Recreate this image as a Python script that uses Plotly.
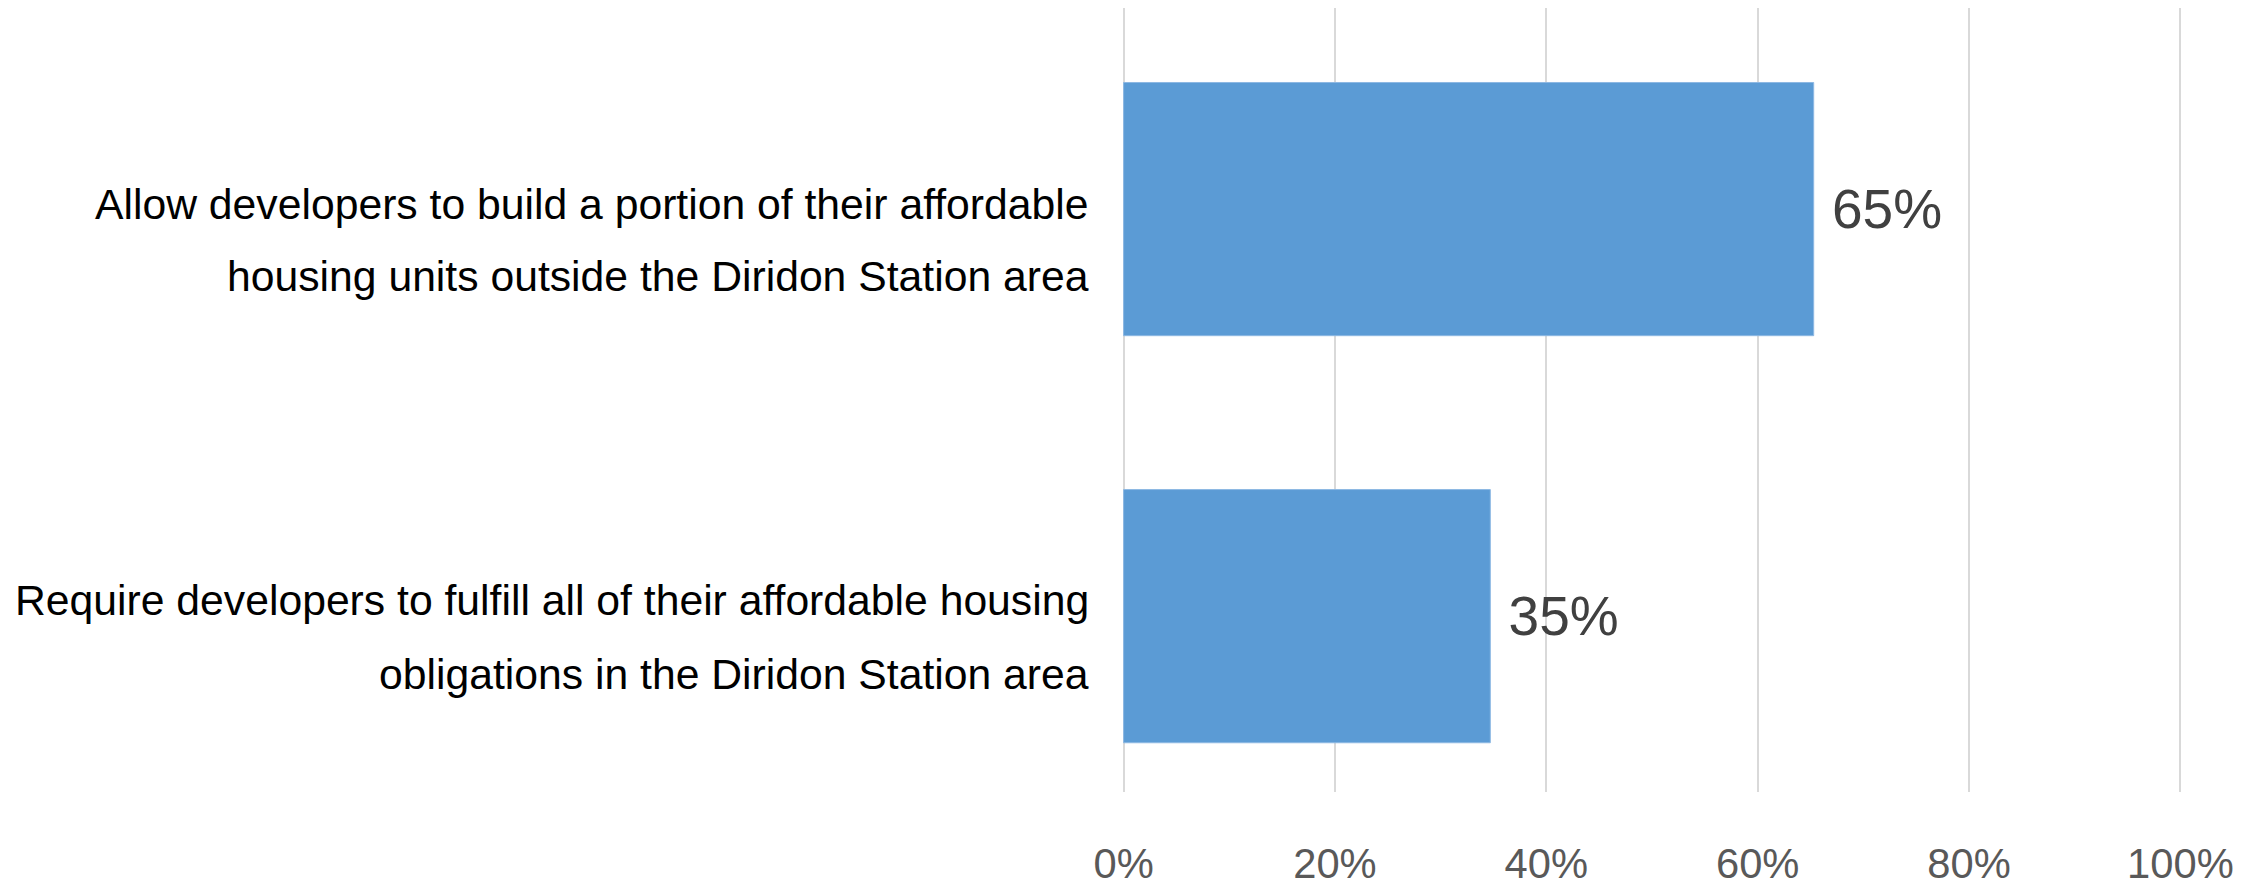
import plotly.graph_objects as go

categories = [
    "Allow developers to build a portion of their affordable housing units outside the Diridon Station area",
    "Require developers to fulfill all of their affordable housing obligations in the Diridon Station area",
]
label_lines = [
    ["Allow developers to build a portion of their affordable",
     "housing units outside the Diridon Station area"],
    ["Require developers to fulfill all of their affordable housing",
     "obligations in the Diridon Station area"],
]
values = [65.3, 34.7]
value_labels = ["65%", "35%"]
tick_vals = [0, 20, 40, 60, 80, 100]
tick_text = ["0%", "20%", "40%", "60%", "80%", "100%"]

FONT = "Liberation Sans, Arial, sans-serif"

fig = go.Figure()
fig.add_trace(go.Bar(
    x=values,
    y=categories,
    orientation="h",
    width=0.622,
    marker=dict(color="#5B9BD5", line=dict(color="#8DB8E3", width=1)),
    text=[" " + t for t in value_labels],
    textposition="outside",
    textfont=dict(family=FONT, size=55, color="#404040"),
    cliponaxis=False,
    hoverinfo="skip",
))

# per-category vertical nudges (pixels) for the two label lines
line_shifts = [(5, -67), (16, -58)]
annotations = []
for cat, lines, shifts in zip(categories, label_lines, line_shifts):
    for line, ys in zip(lines, shifts):
        annotations.append(dict(
            x=-0.029, xref="paper", xanchor="right",
            y=cat, yref="y", yanchor="middle",
            yshift=ys,
            text=line, showarrow=False,
            font=dict(family=FONT, size=42.7, color="#000000"),
        ))

fig.update_layout(
    width=2249, height=880,
    margin=dict(l=1114, r=75, t=0, b=96, autoexpand=False),
    paper_bgcolor="white", plot_bgcolor="white",
    showlegend=False,
    annotations=annotations,
    xaxis=dict(
        range=[-0.15, 100.15],
        tickvals=tick_vals, ticktext=tick_text,
        showgrid=True, gridcolor="#D9D9D9", gridwidth=2,
        zeroline=False, showline=False, automargin=False,
        ticks="", ticklabelstandoff=43,
        tickfont=dict(family=FONT, size=41.7, color="#595959"),
    ),
    yaxis=dict(
        categoryorder="array", categoryarray=categories,
        range=[1.432, -0.494], automargin=False,
        showticklabels=False, showgrid=False, zeroline=False, showline=False,
    ),
)

fig.write_html("out.html")
